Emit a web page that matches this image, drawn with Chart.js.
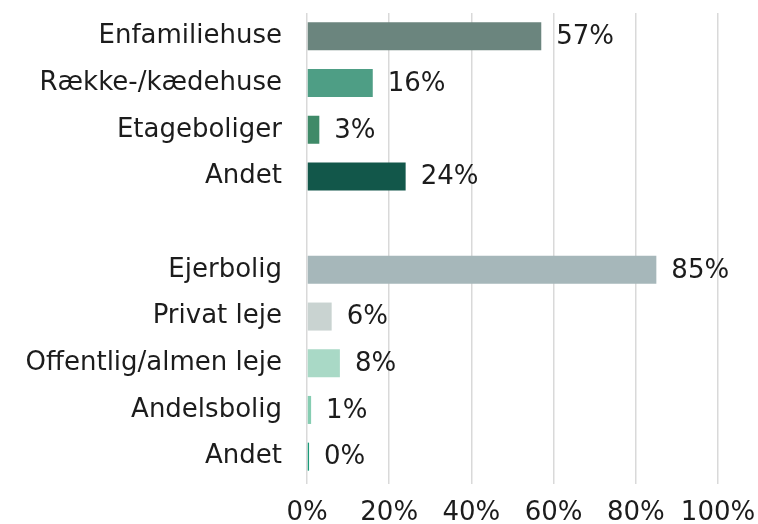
<!DOCTYPE html>
<html>
<head>
<meta charset="utf-8">
<script src="https://cdn.jsdelivr.net/npm/chart.js@4/dist/chart.umd.min.js"></script>
<style>
html,body{margin:0;padding:0;background:#fff;}
#wrap{width:758px;height:524px;position:relative;}
</style>
</head>
<body>
<div id="wrap"><canvas id="c" width="758" height="524"></canvas></div>
<script>
const categories = ["Enfamiliehuse","Række-/kædehuse","Etageboliger","Andet","","Ejerbolig","Privat leje","Offentlig/almen leje","Andelsbolig","Andet"];
const values = [57, 16, 3, 24, null, 85, 6, 8, 1, 0.5];
const labelsText = ["57%","16%","3%","24%","","85%","6%","8%","1%","0%"];
const barColors = ["#6b857e","#4e9e85","#3f8a68","#12574a","#ffffff","#a6b7ba","#c9d3d1","#a9d9c6","#86cdb2","#1a9a78"];
const xTicks = [0,20,40,60,80,100];

const FONT = "'DejaVu Sans', sans-serif";
const FSIZE = 26;
const TXT = "#1c1c1c";

const valueLabels = {
  id: 'valueLabels',
  afterDatasetsDraw(chart) {
    const ctx = chart.ctx;
    const meta = chart.getDatasetMeta(0);
    ctx.save();
    ctx.font = FSIZE + "px " + FONT;
    ctx.fillStyle = TXT;
    ctx.textBaseline = "middle";
    ctx.textAlign = "left";
    meta.data.forEach((bar, i) => {
      if (values[i] === null) return;
      ctx.fillText(labelsText[i], bar.x + 15, bar.y + 1);
    });
    ctx.restore();
  }
};

new Chart(document.getElementById('c'), {
  type: 'bar',
  data: {
    labels: categories,
    datasets: [{
      data: values,
      backgroundColor: barColors,
      barPercentage: 0.6,
      categoryPercentage: 1.0,
      borderWidth: 0
    }]
  },
  options: {
    indexAxis: 'y',
    responsive: false,
    animation: false,
    layout: { padding: { top: 13, right: 40, left: 0, bottom: 0 } },
    plugins: { legend: { display: false }, tooltip: { enabled: false } },
    scales: {
      x: {
        min: 0, max: 100,
        afterBuildTicks(scale) { scale.ticks = xTicks.map(v => ({ value: v })); },
        afterFit(scale) { scale.height = 44; scale.paddingLeft = 0; scale.paddingRight = 0; },
        ticks: {
          callback: v => v + "%",
          color: TXT,
          font: { family: FONT, size: FSIZE },
          padding: 14,
          maxRotation: 0
        },
        grid: { color: "#d9d9d9", lineWidth: 1.5, tickLength: 4, drawTicks: true },
        border: { display: false }
      },
      y: {
        afterFit(scale) { scale.width = 307; scale.paddingTop = 0; scale.paddingBottom = 0; },
        ticks: {
          color: TXT,
          font: { family: FONT, size: FSIZE },
          padding: 17,
          autoSkip: false
        },
        grid: { display: false },
        border: { display: false }
      }
    }
  },
  plugins: [valueLabels]
});
</script>
</body>
</html>
